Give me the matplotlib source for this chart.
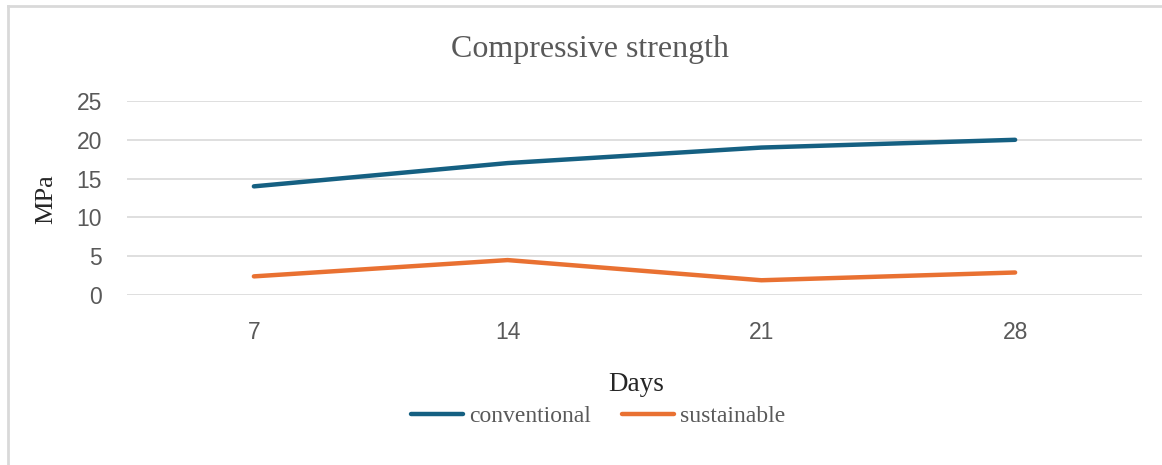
import matplotlib.pyplot as plt
from matplotlib.lines import Line2D

# compressive strength (MPa) at each curing age
days = ["7", "14", "21", "28"]
conventional = [14.0, 17.0, 19.0, 20.0]
sustainable = [2.4, 4.5, 1.9, 2.9]
yticks = [0, 5, 10, 15, 20, 25]

W, H = 1162, 465
fig = plt.figure(figsize=(W / 100, H / 100), dpi=100)

# light frame round the chart area (only left and top edges show)
fig.add_artist(Line2D([7.5 / W, 7.5 / W], [0, 1 - 6 / H], transform=fig.transFigure,
                      color="#d9d9d9", lw=2))
fig.add_artist(Line2D([7.5 / W, 1], [1 - 6 / H, 1 - 6 / H], transform=fig.transFigure,
                      color="#d9d9d9", lw=2))

left, right, top, bottom = 127, 1142, 101, 295
ax = fig.add_axes([left / W, 1 - bottom / H, (right - left) / W, (bottom - top) / H])

x = range(len(days))
ax.plot(x, conventional, color="#156082", lw=3.2, solid_capstyle="round", label="conventional")
ax.plot(x, sustainable, color="#e97132", lw=3.2, solid_capstyle="round", label="sustainable")

ax.set_xlim(-0.5, len(days) - 0.5)
ax.set_ylim(0, 25)
ax.set_xticks(list(x))
ax.set_xticklabels(days)
ax.set_yticks(yticks)
ax.tick_params(length=0, labelsize=16.5, labelcolor="#595959", pad=18)
ax.tick_params(axis="x", pad=19)
for lbl in ax.get_xticklabels() + ax.get_yticklabels():
    lbl.set_family("Liberation Sans")

ax.grid(axis="y", color="#d9d9d9", lw=1.2)
ax.set_axisbelow(True)
for s in ax.spines.values():
    s.set_visible(False)

serif = "Liberation Serif"
fig.text(590 / W, 1 - 49 / H, "Compressive strength", ha="center", va="center",
         family=serif, fontsize=23, color="#595959")
fig.text(46 / W, 1 - 199 / H, "MPa", ha="center", va="center", rotation=90,
         family=serif, fontsize=19, color="#262626")
fig.text(636 / W, 1 - 384 / H, "Days", ha="center", va="center",
         family=serif, fontsize=19.5, color="#262626")

handles, labels = ax.get_legend_handles_labels()
fig.legend(handles, labels, loc="center", bbox_to_anchor=(598 / W, 1 - 416 / H),
           ncol=2, frameon=False, prop={"family": serif, "size": 17},
           labelcolor="#595959", handlelength=2.2, handletextpad=0.25, columnspacing=1.3)

fig.savefig("out.png", dpi=100, facecolor="white")
